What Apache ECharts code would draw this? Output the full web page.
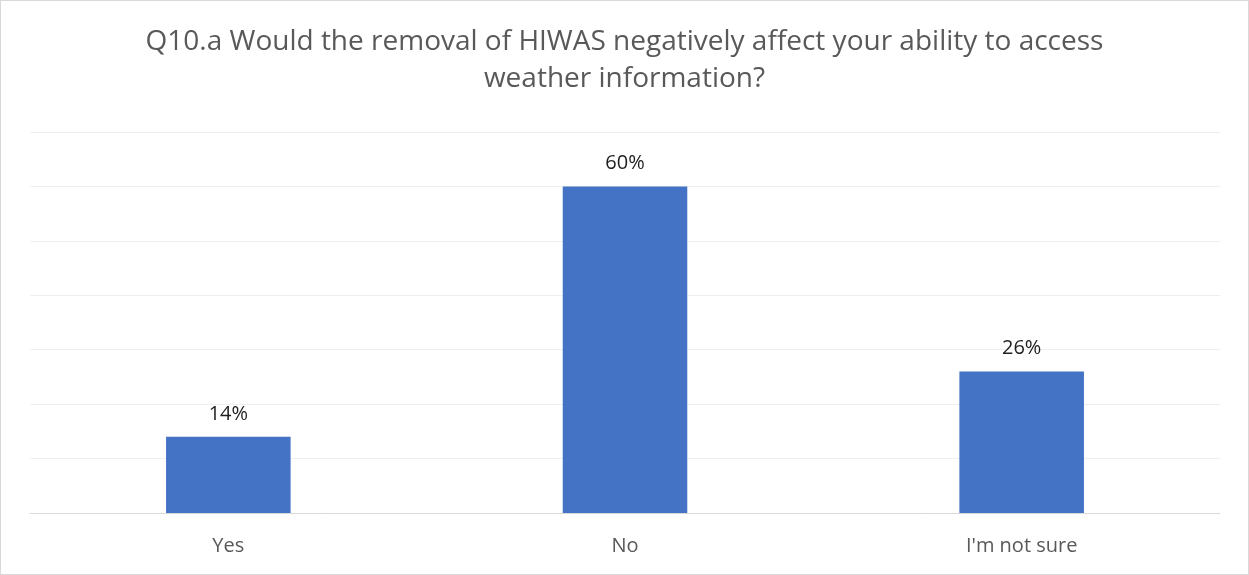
<!DOCTYPE html>
<html>
<head>
<meta charset="utf-8">
<script src="https://cdn.jsdelivr.net/npm/echarts@6/dist/echarts.min.js"></script>
<style>
html,body{margin:0;padding:0;background:#fff;}
#c{width:1249px;height:575px;box-sizing:border-box;border:1px solid #d9d9d9;}
</style>
</head>
<body>
<div id="c"></div>
<script>
const titleText = "Q10.a Would the removal of HIWAS negatively affect your ability to access\nweather information?";
const categories = ["Yes", "No", "I'm not sure"];
const values = [14, 60, 26];
const yMax = 70;
const yInterval = 10;

const chart = echarts.init(document.getElementById('c'), null, {renderer:'canvas'});
chart.setOption({
  animation:false,
  title:{
    text:titleText,
    left:'center',
    top:18,
    textStyle:{fontFamily:'Open Sans',fontSize:28,fontWeight:'normal',color:'#595959',lineHeight:37}
  },
  grid:{left:29,right:28,top:131,bottom:61,containLabel:false},
  xAxis:{
    type:'category',
    data:categories,
    axisLine:{lineStyle:{color:'#d9d9d9',width:1}},
    axisTick:{show:false},
    axisLabel:{color:'#595959',fontFamily:'Open Sans',fontSize:20,margin:23}
  },
  yAxis:{
    type:'value',
    min:0,max:yMax,interval:yInterval,
    axisLabel:{show:false},
    axisLine:{show:false},
    axisTick:{show:false},
    splitLine:{lineStyle:{color:'#efefef',width:1}}
  },
  series:[{
    type:'bar',
    data:values,
    barWidth:'31.4%',
    itemStyle:{color:'#4472c4'},
    label:{show:true,position:'top',distance:13,formatter:'{c}%',color:'#1e1e1e',fontFamily:'Open Sans',fontSize:20}
  }]
});
</script>
</body>
</html>
